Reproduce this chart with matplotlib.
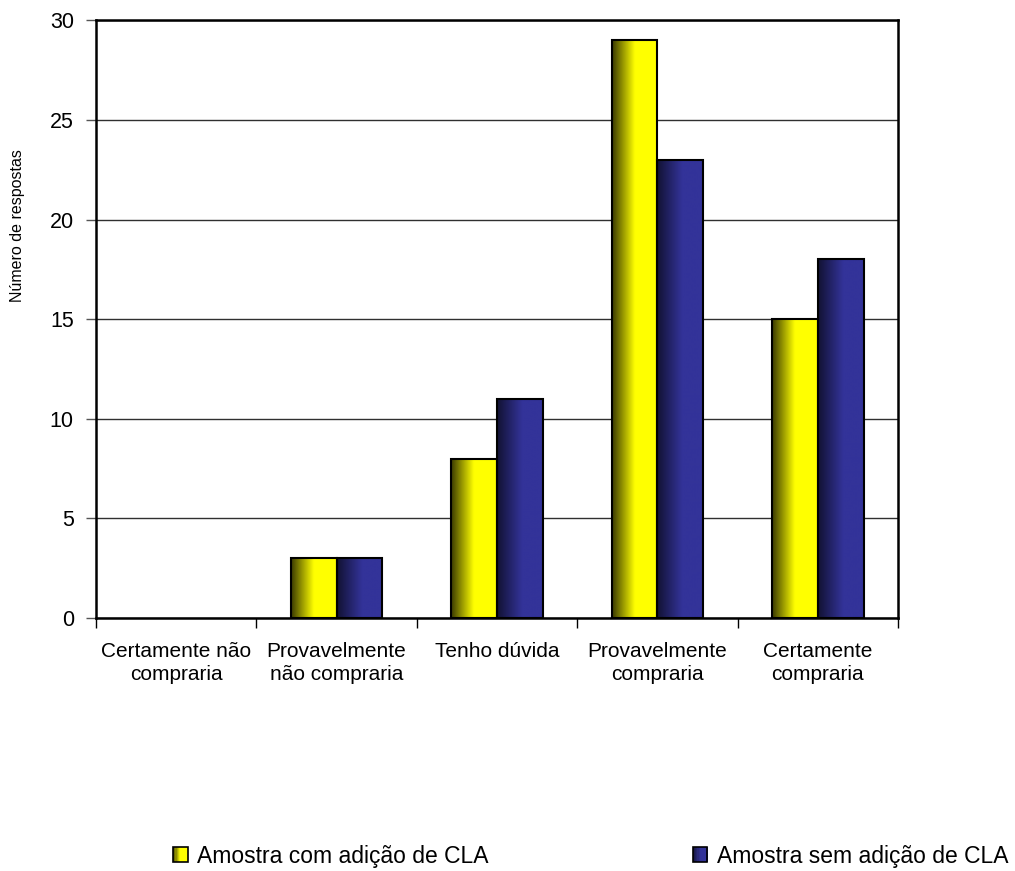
import numpy as np
import matplotlib
matplotlib.use("Agg")
import matplotlib.pyplot as plt
from matplotlib.colors import LinearSegmentedColormap
from matplotlib.patches import Rectangle
from matplotlib.legend_handler import HandlerBase

plt.rcParams['font.family'] = ['Liberation Sans', 'DejaVu Sans']

categories = ["Certamente não\ncompraria", "Provavelmente\nnão compraria",
              "Tenho dúvida", "Provavelmente\ncompraria", "Certamente\ncompraria"]
series_names = ["Amostra com adição de CLA", "Amostra sem adição de CLA"]
com_cla = [0, 3, 8, 29, 15]
sem_cla = [0, 3, 11, 23, 18]
yticks = [0, 5, 10, 15, 20, 25, 30]

cmap_y = LinearSegmentedColormap.from_list(
    "yel", [(0.0, (0.22, 0.22, 0.0)), (0.5, (1.0, 1.0, 0.0)), (1.0, (1.0, 1.0, 0.0))])
cmap_b = LinearSegmentedColormap.from_list(
    "blu", [(0.0, (0.07, 0.07, 0.20)), (0.55, (0.2, 0.2, 0.6)), (1.0, (0.2, 0.2, 0.6))])

fig = plt.figure(figsize=(10.15, 8.71), dpi=100)
ax = fig.add_axes([96/1015, 1-618/871, (898-96)/1015, (618-20.5)/871])

x = np.arange(len(categories))
w = 1/3.5
bars1 = ax.bar(x - w, com_cla, width=w, align='edge', facecolor='none',
               edgecolor='black', linewidth=1.5, zorder=3)
bars2 = ax.bar(x, sem_cla, width=w, align='edge', facecolor='none',
               edgecolor='black', linewidth=1.5, zorder=3)

grad = np.linspace(0, 1, 256).reshape(1, -1)
for bars, cmap in ((bars1, cmap_y), (bars2, cmap_b)):
    for p in bars:
        h = p.get_height()
        if h <= 0:
            p.set_visible(False)
            continue
        x0 = p.get_x()
        im = ax.imshow(grad, cmap=cmap, extent=[x0, x0 + p.get_width(), 0, h],
                       aspect='auto', zorder=2, interpolation='bilinear')
        im.set_clip_path(p)

ax.set_xlim(-0.5, len(categories) - 0.5)
ax.set_ylim(0, 30)
ax.set_yticks(yticks)
ax.set_yticklabels([str(t) for t in yticks])
ax.set_xticks(np.arange(len(categories) + 1) - 0.5)
ax.set_xticklabels([])
ax.set_xticks(x, minor=True)
ax.set_xticklabels(categories, minor=True, fontsize=15, linespacing=1.28)
ax.tick_params(axis='x', which='minor', length=0, pad=17)
ax.tick_params(axis='x', which='major', length=7, width=1, direction='out', color='black')
ax.tick_params(axis='y', length=7, width=1, direction='out', labelsize=15.5, pad=9, color='#555555')

ax.yaxis.grid(True, color='#303030', linewidth=1, zorder=1)
ax.set_axisbelow(True)
for s in ax.spines.values():
    s.set_linewidth(1.8)
    s.set_color('black')
    s.set_zorder(4)

fig.text(18/1015, 1-226/871, "Número de respostas", rotation=90, fontsize=11.5,
         ha='center', va='center')


class GradHandler(HandlerBase):
    def __init__(self, cmap):
        super().__init__()
        self.cmap = cmap

    def create_artists(self, legend, orig_handle, xdescent, ydescent, width, height,
                       fontsize, trans):
        arts = []
        n = 12
        for i in range(n):
            r = Rectangle((-xdescent + width * i / n, -ydescent), width / n + 0.3, height,
                          facecolor=self.cmap((i + 0.5) / n), edgecolor='none',
                          transform=trans)
            arts.append(r)
        arts.append(Rectangle((-xdescent, -ydescent), width, height, facecolor='none',
                              edgecolor='black', linewidth=1.2, transform=trans))
        return arts


h1 = Rectangle((0, 0), 1, 1)
h2 = Rectangle((0, 0), 1, 1)
fs = 16.5
fig.legend([h1, h2], series_names, ncol=2, frameon=False, fontsize=fs,
           loc='center left', bbox_to_anchor=(173/1015, 1-856/871),
           borderpad=0, borderaxespad=0, handlelength=0.65, handleheight=0.6,
           handletextpad=0.4, columnspacing=8.9,
           handler_map={h1: GradHandler(cmap_y), h2: GradHandler(cmap_b)})

fig.savefig("out.png", dpi=100)
